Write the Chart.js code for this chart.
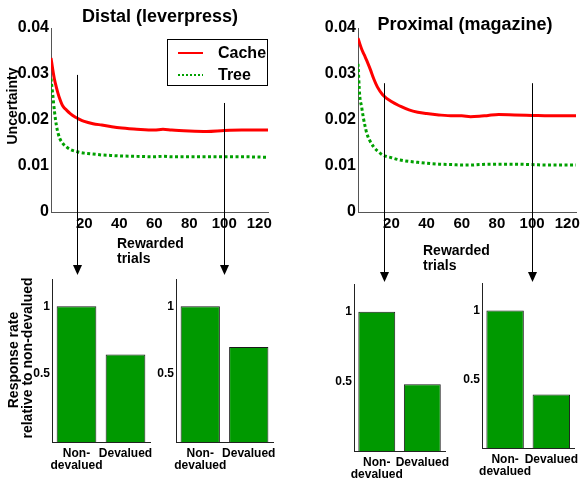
<!DOCTYPE html>
<html>
<head>
<meta charset="utf-8">
<script src="https://cdn.jsdelivr.net/npm/chart.js@4/dist/chart.umd.min.js"></script>
<style>
body { margin: 0; background: #fff; }
#wrap { position: relative; width: 585px; height: 478px; overflow: hidden; }
canvas { position: absolute; }
</style>
</head>
<body>
<div id="wrap">
<canvas id="barDistalEarly" width="160" height="208" style="left:0;top:270px"></canvas>
<canvas id="barDistalLate" width="135" height="208" style="left:150px;top:270px"></canvas>
<canvas id="barProxEarly" width="165" height="208" style="left:290px;top:270px"></canvas>
<canvas id="barProxLate" width="140" height="208" style="left:445px;top:270px"></canvas>
<canvas id="distal" width="290" height="290" style="left:0;top:0"></canvas>
<canvas id="proximal" width="295" height="290" style="left:290px;top:0"></canvas>
</div>
<script>
// Distal (leverpress) uncertainty
var distalTrials = [1, 2, 3, 4, 5, 6, 7, 8, 10, 12, 15, 17, 20, 25, 30, 35, 40, 50, 60, 65, 70, 80, 90, 100, 110, 125];
var distalCache = [0.0335, 0.0310, 0.0288, 0.0272, 0.0258, 0.0246, 0.0236, 0.0229, 0.0221, 0.0214, 0.0206, 0.0202, 0.0197, 0.0192, 0.0189, 0.0186, 0.0183, 0.0180, 0.0178, 0.0180, 0.0178, 0.0176, 0.0175, 0.0177, 0.0178, 0.0178];
var distalTree = [0.0290, 0.0255, 0.0218, 0.0190, 0.0172, 0.0160, 0.0153, 0.0148, 0.0141, 0.0136, 0.0132, 0.0130, 0.0128, 0.0126, 0.0124, 0.0123, 0.0122, 0.0121, 0.0120, 0.0121, 0.0120, 0.0120, 0.0120, 0.0120, 0.0120, 0.0119];

// Proximal (magazine) uncertainty
var proxTrials = [1, 2, 3, 4, 5, 6, 8, 10, 12, 15, 20, 25, 30, 35, 40, 47, 55, 60, 65, 70, 75, 81, 90, 100, 110, 125];
var proxCache = [0.0378, 0.0366, 0.0355, 0.0346, 0.0338, 0.0329, 0.0310, 0.0289, 0.0272, 0.0255, 0.0240, 0.0230, 0.0222, 0.0217, 0.0214, 0.0211, 0.0209, 0.0209, 0.0207, 0.0208, 0.0210, 0.0212, 0.0211, 0.0210, 0.0209, 0.0209];
var proxTree = [0.0322, 0.0252, 0.0230, 0.0206, 0.0187, 0.0171, 0.0153, 0.0141, 0.0133, 0.0124, 0.0118, 0.0113, 0.0110, 0.0108, 0.0106, 0.0104, 0.0103, 0.0102, 0.0102, 0.0103, 0.0104, 0.0104, 0.0104, 0.0103, 0.0102, 0.0102];

// Devaluation tests (response rate relative to non-devalued)
var devalLabels = [['Non-', 'devalued'], 'Devalued'];
var distalEarly = [1, 0.645];
var distalLate = [1, 0.70];
var proxEarly = [1, 0.48];
var proxLate = [1, 0.39];

// Ticks
var trialTicks = [20, 40, 60, 80, 100, 120];
var uncertaintyTicks = [0, 0.01, 0.02, 0.03, 0.04];
var responseTicks = [0.5, 1];

var FONT = "'Liberation Sans', Arial, sans-serif";
Chart.defaults.font.family = FONT;
Chart.defaults.color = '#000';
Chart.defaults.animation = false;
Chart.defaults.plugins.legend.display = false;
Chart.defaults.plugins.tooltip.enabled = false;

function pairs(xs, ys) {
  return xs.map(function (x, i) { return {x: x, y: ys[i]}; });
}
function fixWidth(w) { return function (scale) { scale.width = w; }; }
function fixHeight(h) { return function (scale) { scale.height = h; }; }
function setTicks(list) {
  return function (scale) { scale.ticks = list.map(function (v) { return {value: v}; }); };
}

// free text: titles, axis names
var notesPlugin = {
  id: 'notes',
  afterDraw: function (chart, args, opts) {
    var ctx = chart.ctx;
    (opts.items || []).forEach(function (n) {
      ctx.save();
      ctx.font = n.font;
      ctx.fillStyle = '#000';
      ctx.textAlign = n.align || 'center';
      ctx.textBaseline = 'alphabetic';
      ctx.translate(n.x, n.y);
      if (n.rotate) ctx.rotate(-Math.PI / 2);
      ctx.fillText(n.text, 0, 0);
      ctx.restore();
    });
  }
};

// the arrows pointing from a trial down to its bar panel
var arrowPlugin = {
  id: 'arrows',
  afterDraw: function (chart, args, opts) {
    var ctx = chart.ctx, xs = chart.scales.x, ys = chart.scales.y;
    (opts.items || []).forEach(function (a) {
      var px = Math.round(xs.getPixelForValue(a.trial)) + 0.5;
      var top = ys.getPixelForValue(a.from);
      ctx.save();
      ctx.strokeStyle = '#000';
      ctx.lineWidth = 1;
      ctx.beginPath();
      ctx.moveTo(px, top);
      ctx.lineTo(px, a.tip - 6);
      ctx.stroke();
      ctx.fillStyle = '#000';
      ctx.beginPath();
      ctx.moveTo(px - 4.5, a.tip - 10);
      ctx.lineTo(px + 4.5, a.tip - 10);
      ctx.lineTo(px, a.tip);
      ctx.closePath();
      ctx.fill();
      ctx.restore();
    });
  }
};

// boxed legend inside the plot
var boxLegend = {
  id: 'boxLegend',
  afterDraw: function (chart, args, opts) {
    if (!opts.box) return;
    var ctx = chart.ctx, b = opts.box;
    ctx.save();
    ctx.fillStyle = '#fff';
    ctx.fillRect(b.x, b.y, b.w, b.h);
    ctx.strokeStyle = '#000';
    ctx.lineWidth = 1;
    ctx.strokeRect(b.x + 0.5, b.y + 0.5, b.w, b.h);
    chart.data.datasets.forEach(function (ds, i) {
      var ly = b.y + 14 + i * 22;
      ctx.strokeStyle = ds.borderColor;
      ctx.lineWidth = 2;
      ctx.setLineDash(ds.borderDash ? [2, 2] : []);
      ctx.beginPath();
      ctx.moveTo(b.x + 11, ly);
      ctx.lineTo(b.x + 36, ly);
      ctx.stroke();
      ctx.setLineDash([]);
      ctx.fillStyle = '#000';
      ctx.font = 'bold 16px ' + FONT;
      ctx.textAlign = 'left';
      ctx.textBaseline = 'middle';
      ctx.fillText(ds.label, b.x + 51, ly + 1);
    });
    ctx.restore();
  }
};

function uncertaintyChart(id, trials, cache, tree, cfg) {
  return new Chart(document.getElementById(id), {
    type: 'line',
    data: {
      datasets: [
        {label: 'Cache', data: pairs(trials, cache), borderColor: '#ff0000', borderWidth: 3,
         pointRadius: 0, cubicInterpolationMode: 'monotone'},
        {label: 'Tree', data: pairs(trials, tree), borderColor: '#00a000', borderWidth: 3,
         borderDash: [3, 2.5], pointRadius: 0, cubicInterpolationMode: 'monotone'}
      ]
    },
    options: {
      responsive: false,
      layout: {padding: cfg.padding},
      scales: {
        x: {
          type: 'linear', min: 1, max: 125,
          grid: {display: false, drawTicks: false},
          border: {color: '#555'},
          afterBuildTicks: setTicks(trialTicks),
          afterFit: fixHeight(30),
          ticks: {font: {size: 15, weight: 'bold'}, padding: 3, maxRotation: 0, autoSkip: false}
        },
        y: {
          min: 0, max: 0.04,
          grid: {display: false, drawTicks: false},
          border: {color: '#555'},
          afterBuildTicks: setTicks(uncertaintyTicks),
          afterFit: fixWidth(cfg.yWidth),
          ticks: {
            font: {size: 16, weight: 'bold'}, padding: 2,
            callback: function (v) { return v === 0 ? '0' : v.toFixed(2); }
          }
        }
      },
      plugins: {
        notes: {items: cfg.notes},
        arrows: {items: cfg.arrows},
        boxLegend: {box: cfg.legend}
      }
    },
    plugins: [notesPlugin, arrowPlugin, boxLegend]
  });
}

function devaluationChart(id, values, cfg) {
  return new Chart(document.getElementById(id), {
    type: 'bar',
    data: {
      labels: devalLabels,
      datasets: [{data: values, backgroundColor: '#009900', borderColor: '#1a1a1a', borderWidth: 1,
                  barPercentage: 0.81, categoryPercentage: 1}]
    },
    options: {
      responsive: false,
      layout: {padding: cfg.padding},
      scales: {
        x: {
          grid: {display: false, drawTicks: false},
          border: {color: '#222'},
          afterFit: fixHeight(cfg.xHeight),
          ticks: {font: {size: 12, weight: 'bold', lineHeight: 1.05}, padding: 5, maxRotation: 0, autoSkip: false}
        },
        y: {
          min: 0, max: 1.2,
          grid: {display: false, drawTicks: false},
          border: {color: '#222'},
          afterBuildTicks: setTicks(responseTicks),
          afterFit: fixWidth(cfg.yWidth),
          ticks: {
            font: {size: 12, weight: 'bold'}, padding: 2,
            callback: function (v) { return String(v); }
          }
        }
      },
      plugins: {notes: {items: cfg.notes || []}}
    },
    plugins: [notesPlugin]
  });
}

var bold14 = 'bold 14px ' + FONT;
var bold18 = 'bold 18px ' + FONT;

uncertaintyChart('distal', distalTrials, distalCache, distalTree, {
  padding: {left: 0, right: 22, top: 28, bottom: 48},
  yWidth: 51,
  legend: {x: 167, y: 39, w: 100, h: 46},
  arrows: [{trial: 16, from: 0.0298, tip: 275}, {trial: 100, from: 0.0237, tip: 275}],
  notes: [
    {text: 'Distal (leverpress)', x: 160, y: 22, font: bold18},
    {text: 'Uncertainty', x: 17, y: 106, font: bold14, rotate: true},
    {text: 'Rewarded', x: 117, y: 248, font: bold14, align: 'left'},
    {text: 'trials', x: 117, y: 263, font: bold14, align: 'left'}
  ]
});

uncertaintyChart('proximal', proxTrials, proxCache, proxTree, {
  padding: {left: 0, right: 9, top: 28, bottom: 48},
  yWidth: 68,
  arrows: [{trial: 16, from: 0.028, tip: 282}, {trial: 100, from: 0.028, tip: 282}],
  notes: [
    {text: 'Proximal (magazine)', x: 175, y: 30, font: bold18},
    {text: 'Rewarded', x: 133, y: 255, font: bold14, align: 'left'},
    {text: 'trials', x: 133, y: 270, font: bold14, align: 'left'}
  ]
});

devaluationChart('barDistalEarly', distalEarly, {
  padding: {left: 0, right: 10, top: 7, bottom: 6}, yWidth: 52, xHeight: 30,
  notes: [
    {text: 'Response rate', x: 18, y: 90, font: bold14, rotate: true},
    {text: 'relative to non-devalued', x: 32, y: 88, font: bold14, rotate: true}
  ]
});
devaluationChart('barDistalLate', distalLate, {
  padding: {left: 0, right: 12, top: 7, bottom: 6}, yWidth: 26, xHeight: 30
});
devaluationChart('barProxEarly', proxEarly, {
  padding: {left: 0, right: 4, top: 14, bottom: 0}, yWidth: 64, xHeight: 27
});
devaluationChart('barProxLate', proxLate, {
  padding: {left: 0, right: 8, top: 13, bottom: 3}, yWidth: 37, xHeight: 27
});
</script>
</body>
</html>
